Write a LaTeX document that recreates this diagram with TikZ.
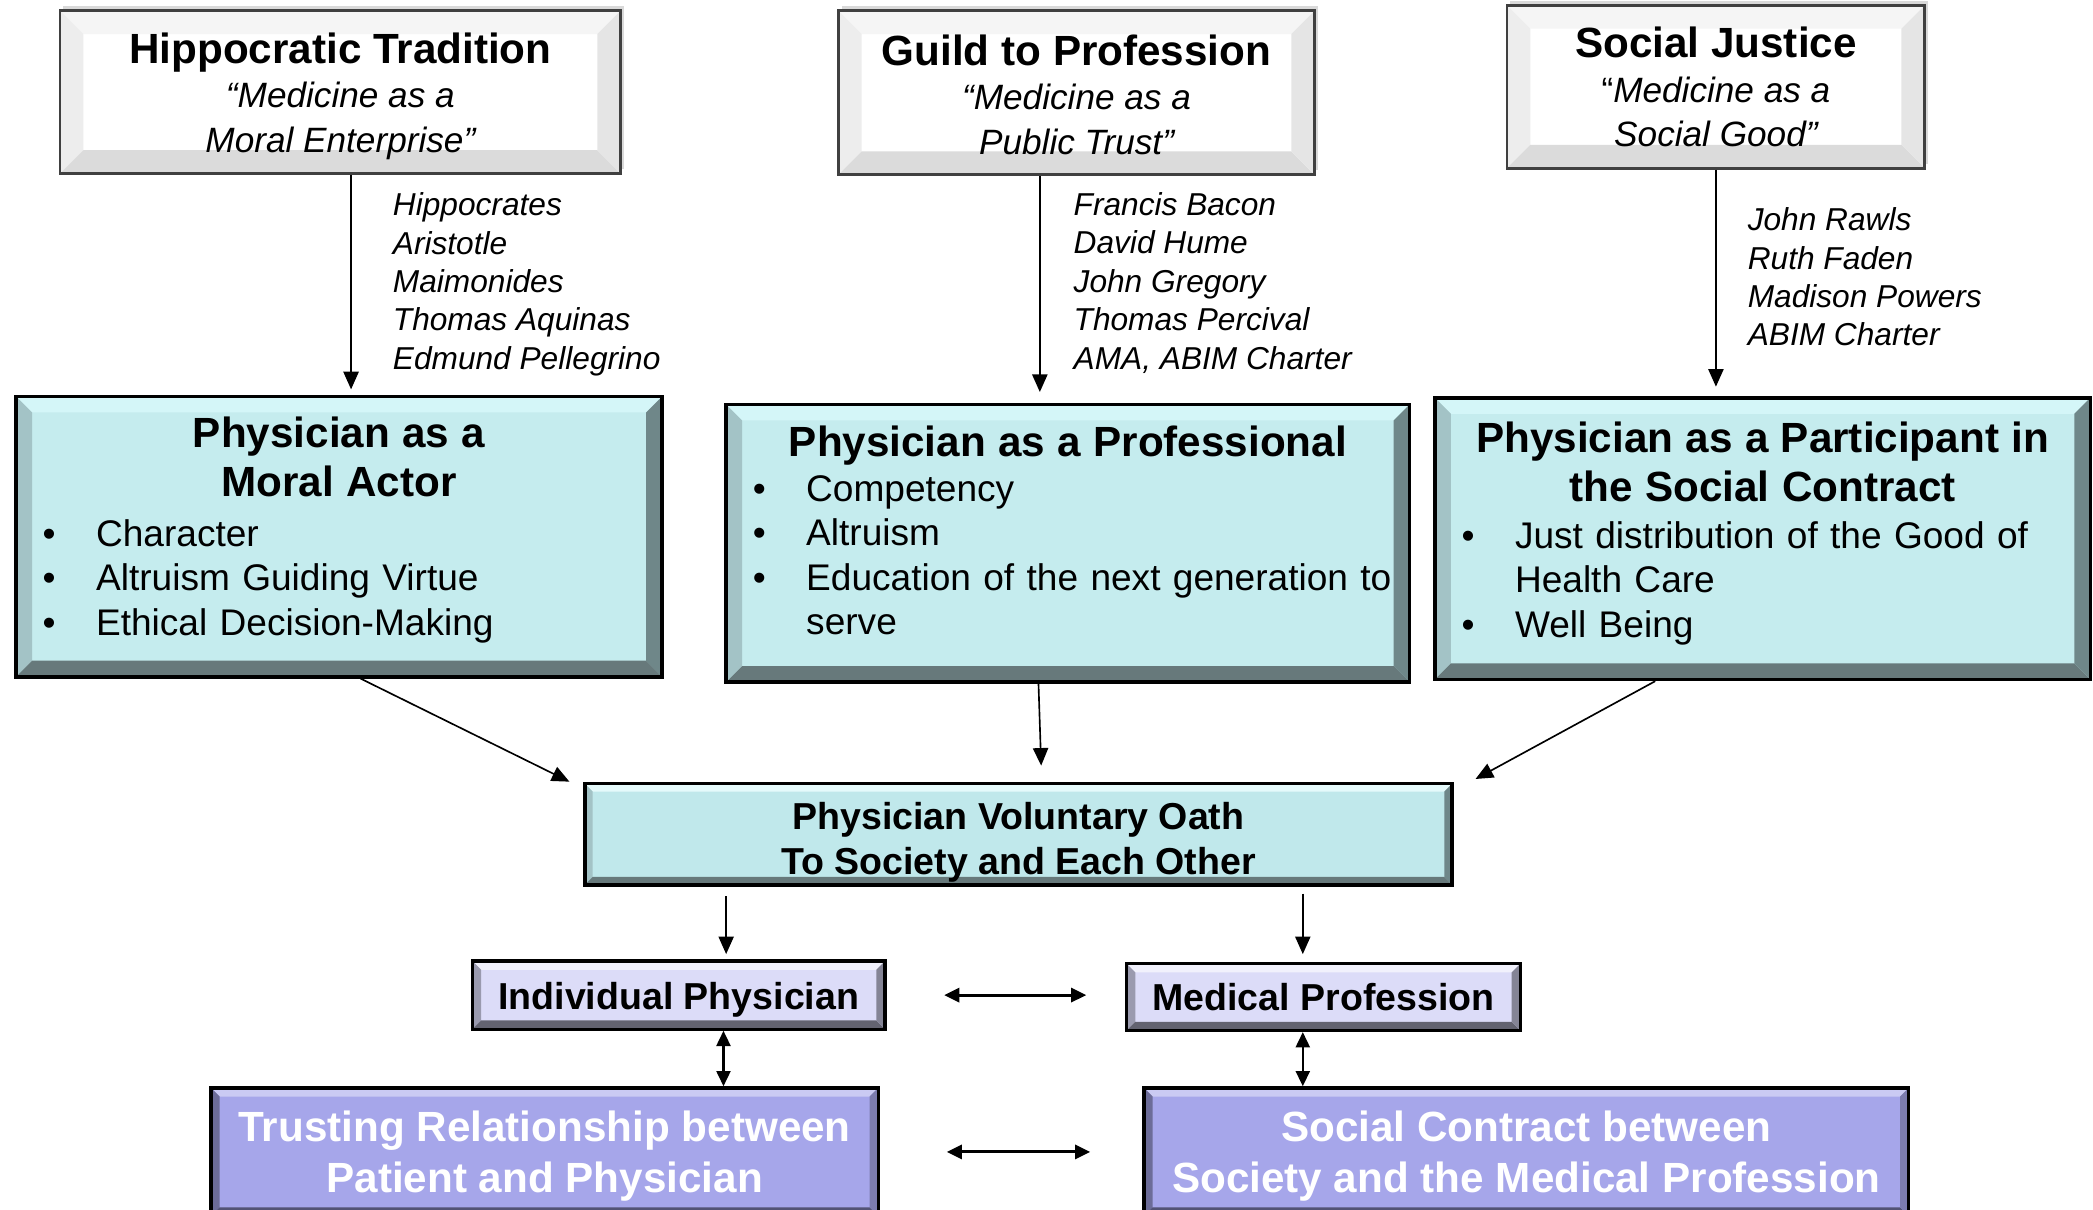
\documentclass[tikz,border=0pt]{standalone}
\usepackage{fontspec}
\setmainfont{Liberation Sans}
\usetikzlibrary{arrows.meta,shadows}

\definecolor{roleface}{HTML}{C5ECEE}
\definecolor{roletop}{HTML}{D4F6F8}
\definecolor{roleleft}{HTML}{A3C3C6}
\definecolor{rolebottom}{HTML}{67797B}
\definecolor{roleright}{HTML}{6F8789}
\definecolor{oathface}{HTML}{C0E8EB}
\definecolor{indface}{HTML}{DCDCF8}
\definecolor{contractface}{HTML}{A6A6EA}

% four bevel strips inside a node
\newcommand\bevelpic[5]{%
  \fill[#2] (path picture bounding box.north west) -- (path picture bounding box.north east)
    -- ([shift={(-#1,-#1)}]path picture bounding box.north east) -- ([shift={(#1,-#1)}]path picture bounding box.north west) -- cycle;
  \fill[#3] (path picture bounding box.north west) -- ([shift={(#1,-#1)}]path picture bounding box.north west)
    -- ([shift={(#1,#1)}]path picture bounding box.south west) -- (path picture bounding box.south west) -- cycle;
  \fill[#4] (path picture bounding box.south west) -- ([shift={(#1,#1)}]path picture bounding box.south west)
    -- ([shift={(-#1,#1)}]path picture bounding box.south east) -- (path picture bounding box.south east) -- cycle;
  \fill[#5] (path picture bounding box.south east) -- ([shift={(-#1,#1)}]path picture bounding box.south east)
    -- ([shift={(-#1,-#1)}]path picture bounding box.north east) -- (path picture bounding box.north east) -- cycle;
}
\newcommand\bul[1]{\par\hangindent=0.9cm\hangafter=1\noindent\makebox[0.9cm][l]{\hspace{0.1cm}\textbullet}#1}
\newcommand\lift[1]{\par\hrule height0pt depth#1 width0pt}

\tikzset{
  topbox/.style={draw=black!75, line width=1.2pt, fill=white, align=center, inner sep=0pt,
    drop shadow={shadow xshift=0.05cm, shadow yshift=0.07cm, opacity=0.3},
    font=\fontsize{15}{19}\selectfont,
    path picture={\bevelpic{0.35cm}{black!4}{black!7}{black!14}{black!10}}},
  rolebox/.style={draw=black, line width=1.5pt, fill=roleface, inner xsep=0.3cm, inner ysep=0pt,
    font=\fontsize{15.8}{19}\selectfont,
    path picture={\bevelpic{0.24cm}{roletop}{roleleft}{rolebottom}{roleright}}},
  oathbox/.style={draw=black, line width=1.6pt, fill=oathface, align=center, inner sep=0pt,
    font=\fontsize{16}{19}\selectfont\bfseries,
    path picture={\bevelpic{0.12cm}{roletop!60!white}{roleleft}{rolebottom}{roleright}}},
  indbox/.style={draw=black, line width=1.4pt, fill=indface, align=center, inner sep=0pt,
    font=\fontsize{16}{19}\selectfont\bfseries,
    path picture={\bevelpic{0.13cm}{indface!40!white}{indface!70!black}{indface!45!black}{indface!60!black}}},
  contractbox/.style={draw=black, line width=1.4pt, fill=contractface, align=center, inner sep=0pt,
    text=white, font=\fontsize{18}{21.5}\selectfont\bfseries,
    path picture={\bevelpic{0.13cm}{contractface!60!white}{contractface!65!black}{contractface!50!black}{contractface!75!black}}},
  names/.style={align=left, anchor=west, inner sep=0pt, font=\fontsize{13.5}{16.4}\selectfont\itshape},
  arr/.style={-{Triangle[length=7.5pt,width=6.5pt]}, line width=0.7pt},
  dblarr/.style={{Triangle[length=6.5pt,width=6pt]}-{Triangle[length=6.5pt,width=6pt]}, line width=0.9pt},
  wide/.style={line width=1.3pt}
}

\begin{document}
\begin{tikzpicture}
  \useasboundingbox (0,0) rectangle (31.36,-18.116);
  \clip (0,0) rectangle (31.36,-18.116);

  % traditions
  \node[topbox, minimum width=8.4cm, minimum height=2.44cm] (hippo) at (5.1,-1.38)
    {\rule{0pt}{16.6pt}{\fontsize{18}{20}\selectfont\bfseries Hippocratic Tradition}\\ \itshape “Medicine as a\\ \itshape Moral Enterprise”};
  \node[topbox, minimum width=7.14cm, minimum height=2.46cm] (guild) at (16.13,-1.39)
    {\rule{0pt}{14.6pt}{\fontsize{18}{20}\selectfont\bfseries Guild to Profession}\\ \itshape “Medicine as a\\ \itshape Public Trust”};
  \node[topbox, minimum width=6.26cm, minimum height=2.44cm] (justice) at (25.71,-1.3)
    {\rule{0pt}{13.5pt}{\fontsize{18}{20}\selectfont\bfseries Social Justice}\\ “\textit{Medicine as a}\\ \itshape Social Good”};

  \node[names] (hipponames) at (5.88,-4.26) {Hippocrates\\Aristotle\\Maimonides\\Thomas Aquinas\\Edmund Pellegrino};
  \node[names] (guildnames) at (16.08,-4.24) {Francis Bacon\\David Hume\\John Gregory\\Thomas Percival\\AMA, ABIM Charter};
  \node[names] (justicenames) at (26.18,-4.15) {John Rawls\\Ruth Faden\\Madison Powers\\ABIM Charter};

  % roles
  \node[rolebox, minimum width=9.68cm, minimum height=4.2cm, text width=9.08cm] (moral) at (5.08,-8.04)
    {{\centering\fontsize{18}{21}\selectfont\bfseries Physician as a\\ Moral Actor\par}\vspace{2pt}\raggedright
     \bul{Character}\bul{Altruism Guiding Virtue}\bul{Ethical Decision-Making}\lift{0.2cm}};
  \node[rolebox, minimum width=10.24cm, minimum height=4.16cm, text width=9.64cm] (prof) at (16,-8.14)
    {{\centering\fontsize{18}{21}\selectfont\bfseries Physician as a Professional\par}\raggedright
     \bul{Competency}\bul{Altruism}\bul{\makebox[0pt][l]{Education of the next generation to}\newline serve}\lift{0.38cm}};
  \node[rolebox, minimum width=9.82cm, minimum height=4.22cm, text width=9.22cm] (partic) at (26.41,-8.07)
    {{\centering\fontsize{18}{21}\selectfont\bfseries Physician as a Participant in\\ the Social Contract\par}\vspace{1pt}\raggedright
     \bul{Just distribution of the Good of\newline Health Care}\bul{Well Being}\lift{0.16cm}};

  \node[oathbox, minimum width=13cm, minimum height=1.52cm] (oath) at (15.26,-12.5)
    {\rule{0pt}{18.5pt}Physician Voluntary Oath\\ To Society and Each Other};

  \node[indbox, minimum width=6.18cm, minimum height=1.02cm] (indiv) at (10.17,-14.91) {\rule{0pt}{16pt}Individual Physician};
  \node[indbox, minimum width=5.9cm, minimum height=1cm] (medprof) at (19.83,-14.94) {Medical Profession};

  \node[contractbox, minimum width=10cm, minimum height=1.92cm] (trust) at (8.16,-17.26)
    {\rule{0pt}{16.5pt}Trusting Relationship between\\ Patient and Physician};
  \node[contractbox, minimum width=11.46cm, minimum height=1.92cm] (social) at (22.87,-17.26)
    {\rule{0pt}{16.5pt}Social Contract between\\ Society and the Medical Profession};

  % connectors
  \coordinate (h) at ([xshift=0.16cm]hippo.south);
  \coordinate (g) at ([xshift=-0.55cm]guild.south);
  \draw[arr, shorten >=0.08cm] (h) -- (h |- moral.north);
  \draw[arr, shorten >=0.16cm] (g) -- (g |- prof.north);
  \draw[arr, shorten >=0.14cm] (justice.south) -- (justice.south |- partic.north);

  \draw[arr] ([xshift=0.32cm]moral.south) -- ([xshift=-0.2cm]oath.north west);
  \draw[arr] ([xshift=-0.44cm]prof.south) -- ([xshift=0.34cm,yshift=0.24cm]oath.north);
  \draw[arr] ([xshift=-1.61cm]partic.south) -- ([xshift=0.32cm,yshift=0.04cm]oath.north east);

  \coordinate (ip) at ([xshift=0.71cm]indiv.north);
  \coordinate (mp) at ([xshift=-0.31cm]medprof.north);
  \draw[arr, shorten <=0.14cm, shorten >=0.08cm] (ip |- oath.south) -- (ip);
  \draw[arr, shorten <=0.1cm, shorten >=0.12cm] (mp |- oath.south) -- (mp);

  \draw[dblarr, wide, shorten <=0.86cm, shorten >=0.58cm] (indiv.east) -- (indiv.east -| medprof.west);
  \draw[dblarr, wide, shorten <=1cm, shorten >=0.78cm] (trust.east) -- (trust.east -| social.west);

  \coordinate (it) at ([xshift=0.67cm]indiv.south);
  \coordinate (ms) at ([xshift=-0.31cm]medprof.south);
  \draw[dblarr] (it) -- (it |- trust.north);
  \draw[dblarr] (ms) -- (ms |- social.north);
\end{tikzpicture}
\end{document}
